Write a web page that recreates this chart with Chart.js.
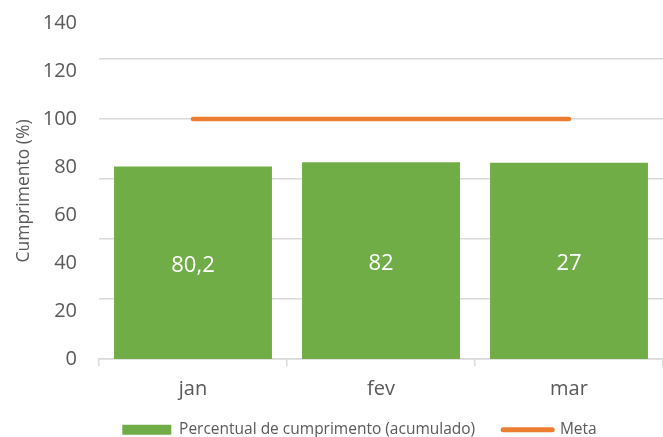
<!DOCTYPE html>
<html>
<head>
<meta charset="utf-8">
<script src="https://cdn.jsdelivr.net/npm/chart.js@4/dist/chart.umd.min.js"></script>
<style>
  html, body { margin: 0; padding: 0; background: #fff; }
  #wrap { width: 663px; height: 437px; }
</style>
</head>
<body>
<div id="wrap"><canvas id="c" width="663" height="437"></canvas></div>
<script>
const months = ['jan', 'fev', 'mar'];
const cumprimento = [80.2, 82, 81.8];
const barLabels = ['80,2', '82', '27'];
const meta = [100, 100, 100];
const yTicks = [0, 20, 40, 60, 80, 100, 120, 140];

const FONT = '"Open Sans", "Noto Sans", sans-serif';
const GREEN = '#70ad47';
const ORANGE = '#ed7d31';
const GRID = '#d9d9d9';
const TEXT = '#595959';

// white value labels inside the bars
const barText = {
  id: 'barText',
  afterDatasetsDraw(chart) {
    const ctx = chart.ctx;
    const bars = chart.getDatasetMeta(0).data;
    ctx.save();
    ctx.fillStyle = '#ffffff';
    ctx.font = '22px ' + FONT;
    ctx.textAlign = 'center';
    ctx.textBaseline = 'middle';
    bars.forEach((bar, i) => {
      ctx.fillText(barLabels[i], bar.x, (bar.y + bar.base) / 2 + 3);
    });
    ctx.restore();
  }
};

// move the legend box to where the original sits
const legendShift = {
  id: 'legendShift',
  afterLayout(chart) {
    const l = chart.legend;
    l.left += 28; l.right += 28;
    l.top = 394; l.bottom = chart.height;
  }
};

new Chart(document.getElementById('c'), {
  data: {
    labels: months,
    datasets: [
      {
        type: 'bar',
        label: 'Percentual de cumprimento (acumulado)',
        data: cumprimento,
        backgroundColor: GREEN,
        borderWidth: 0,
        barPercentage: 0.84,
        categoryPercentage: 1.0,
        order: 2
      },
      {
        type: 'line',
        label: 'Meta',
        data: meta,
        borderColor: ORANGE,
        backgroundColor: ORANGE,
        borderWidth: 4.5,
        borderCapStyle: 'round',
        pointRadius: 0,
        order: 1
      }
    ]
  },
  options: {
    responsive: false,
    animation: false,
    layout: { padding: { top: 23, right: 0, bottom: 0, left: 0 } },
    plugins: {
      tooltip: { enabled: false },
      legend: {
        position: 'bottom',
        maxHeight: 32,
        labels: {
          usePointStyle: true,
          pointStyleWidth: 49,
          boxHeight: 10,
          padding: 28,
          color: TEXT,
          font: { family: FONT, size: 15.5 },
          generateLabels() {
            return [
              { text: 'Percentual de cumprimento (acumulado)', pointStyle: 'rect',
                fillStyle: GREEN, strokeStyle: GREEN, lineWidth: 0, fontColor: TEXT, datasetIndex: 0 },
              { text: 'Meta', pointStyle: 'line', fillStyle: ORANGE, strokeStyle: ORANGE,
                lineWidth: 5, lineCap: 'round', fontColor: TEXT, datasetIndex: 1 }
            ];
          }
        }
      }
    },
    scales: {
      x: {
        offset: true,
        grid: { display: true, offset: true, drawOnChartArea: false, drawTicks: true, tickLength: 7, color: GRID, lineWidth: 1.5 },
        border: { display: true, color: GRID, width: 1.5 },
        ticks: { color: TEXT, padding: 11, font: { family: FONT, size: 20 } },
        afterFit(s) { s.height = 46; }
      },
      y: {
        position: 'left',
        min: 0,
        max: 140,
        afterBuildTicks(s) { s.ticks = yTicks.map(v => ({ value: v })); },
        grid: { display: false, drawTicks: true, tickLength: 22 },
        border: { display: false },
        ticks: { color: TEXT, padding: 0, font: { family: FONT, size: 20 } },
        title: {
          display: true,
          text: 'Cumprimento (%)',
          color: TEXT,
          padding: { top: 14, bottom: 0 },
          font: { family: FONT, size: 17.5 }
        },
        afterFit(s) { s.width = 99; }
      },
      yg: {
        position: 'left',
        min: 0,
        max: 140,
        ticks: { display: false, stepSize: 25, includeBounds: false },
        grid: { color: GRID, lineWidth: 1.5, drawTicks: false },
        border: { display: false },
        afterFit(s) { s.width = 0; }
      }
    }
  },
  plugins: [barText, legendShift]
});
</script>
</body>
</html>
